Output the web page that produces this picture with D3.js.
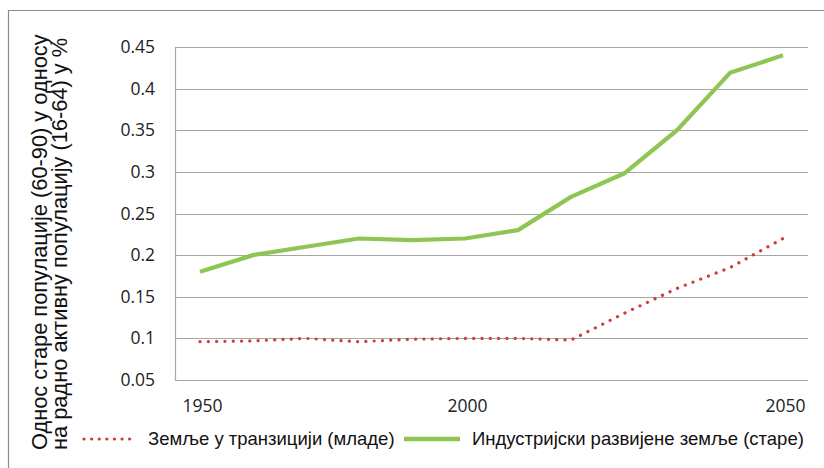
<!DOCTYPE html>
<html><head><meta charset="utf-8">
<script src="https://cdn.jsdelivr.net/npm/d3@7"></script>
<style>body{margin:0;background:#fff}svg{display:block}</style>
</head><body>
<svg id="c" width="824" height="468"></svg>
<script>
const categories = ["1950","1960","1970","1980","1990","2000","2010","2020","2025","2030","2040","2050"];
const tickLabels = ["1950","2000","2050"];
const youngSeries = [0.096,0.097,0.100,0.096,0.099,0.100,0.100,0.098,0.130,0.160,0.185,0.220];
const oldSeries   = [0.180,0.200,0.210,0.220,0.218,0.220,0.230,0.270,0.298,0.350,0.419,0.440];
const yTicks = [0.05,0.1,0.15,0.2,0.25,0.3,0.35,0.4,0.45];
const seriesNames = ["Земље у транзицији (младе)","Индустријски развијене земље (старе)"];
const yTitle = ["Однос старе популације (60-90) у односу","на радно активну популацију (16-64) у %"];

const svg = d3.select("#c");
const L = 175, R = 808, T = 47, B = 380;
const x = d3.scalePoint().domain(categories).range([200, 783]);
const y = d3.scaleLinear().domain([0.05,0.45]).range([B, T]);
const grid = "#a6a6a6";

// frame
svg.append("path").attr("d","M8.5,468V10.5H824").attr("fill","none").attr("stroke","#8c8c8c").attr("stroke-width",1.2);

// gridlines
svg.append("g").selectAll("line").data(yTicks).join("line")
  .attr("x1",L).attr("x2",R).attr("y1",d=>Math.round(y(d))+0.5).attr("y2",d=>Math.round(y(d))+0.5)
  .attr("stroke",grid).attr("stroke-width",1.2);
svg.append("line").attr("x1",L+0.5).attr("x2",L+0.5).attr("y1",T).attr("y2",B+0.5).attr("stroke",grid).attr("stroke-width",1.2);

// y axis labels
const yAxis = d3.axisLeft(y).tickValues(yTicks).tickSize(0).tickPadding(20).tickFormat(d=>String(+d.toFixed(2)));
const gy = svg.append("g").attr("transform",`translate(${L},0)`).call(yAxis);
gy.select(".domain").remove();
gy.selectAll("text").attr("font-family","Open Sans").attr("font-size",17.5).attr("fill","#222");

// x axis labels
const xAxis = d3.axisBottom(x).tickValues(["1950","2000","2050"]).tickSize(0).tickPadding(20)
  .tickFormat((d,i)=>tickLabels[i]);
const gx = svg.append("g").attr("transform",`translate(2,${B})`).call(xAxis);
gx.select(".domain").remove();
gx.selectAll("text").attr("font-family","Open Sans").attr("font-size",17.5).attr("fill","#222");

// lines
const line = d3.line().x((d,i)=>x(categories[i])).y(d=>y(d));
const green = "#8fc653", red = "#d43a3a";
svg.append("path").datum(oldSeries).attr("d",line).attr("fill","none").attr("stroke",green).attr("stroke-width",4.2).attr("stroke-linejoin","round");
svg.append("path").datum(youngSeries).attr("d",line).attr("fill","none").attr("stroke",red).attr("stroke-width",3.2)
  .attr("stroke-dasharray","0.1 8.2").attr("stroke-linecap","round");

// legend
const ly = 439;
svg.append("line").attr("x1",84).attr("x2",136).attr("y1",ly).attr("y2",ly).attr("stroke",red).attr("stroke-width",3.2)
  .attr("stroke-dasharray","0.1 7.5").attr("stroke-linecap","round");
svg.append("text").attr("x",148).attr("y",ly+6).text(seriesNames[0]).attr("font-family","Liberation Sans").attr("font-size",18.5).attr("fill","#111");
svg.append("line").attr("x1",404).attr("x2",460).attr("y1",ly).attr("y2",ly).attr("stroke",green).attr("stroke-width",4.5);
svg.append("text").attr("x",472).attr("y",ly+6).text(seriesNames[1]).attr("font-family","Liberation Sans").attr("font-size",18.5).attr("fill","#111");

// y title
yTitle.forEach((t,i)=>{
  svg.append("text").attr("transform",`translate(${47+i*20},450) rotate(-90)`).text(t)
    .attr("font-family","Liberation Sans").attr("font-size",21.8).attr("fill","#111");
});
</script>
</body></html>
